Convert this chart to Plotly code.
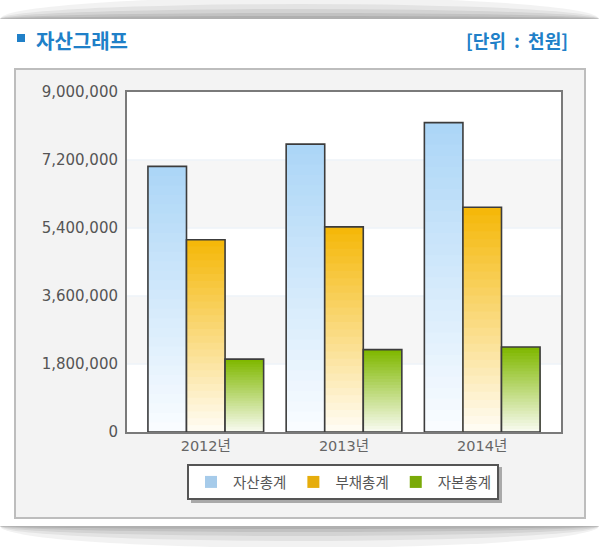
import plotly.graph_objects as go

# data (unit: 천원)
years = ["2012년", "2013년", "2014년"]
series_names = ["자산총계", "부채총계", "자본총계"]
assets = [7030000, 7620000, 8190000]
liabilities = [5090000, 5430000, 5950000]
equity = [1930000, 2180000, 2250000]
y_ticks = [0, 1800000, 3600000, 5400000, 7200000, 9000000]

W, H = 599, 547
L, R, T, B = 127, 38, 92, 115          # plot area 127..561 x 92..432


def px(x):
    return (x - L) / (W - L - R)


def py(y):
    return (H - B - y) / (H - T - B)


def mix(c1, c2, t):
    return "rgb(%d,%d,%d)" % tuple(round(a + (b - a) * t) for a, b in zip(c1, c2))


# top colour -> bottom colour of each bar gradient
grads = [
    ((172, 214, 247), (249, 252, 255)),
    ((245, 184, 10), (255, 252, 242)),
    ((128, 184, 0), (247, 250, 238)),
]
legend_cols = ["#a6cbea", "#e6ad0c", "#7aaa08"]

bw = 0.279
offsets = [-1.5 * bw, -0.5 * bw, 0.5 * bw]
K = 28

fig = go.Figure()
for i, (name, vals) in enumerate(zip(series_names, [assets, liabilities, equity])):
    top, bot = grads[i]
    for k in range(K):
        frac = 1 - k / K
        fig.add_trace(go.Bar(
            x=years, y=[v * frac for v in vals], width=bw, offset=offsets[i],
            marker=dict(color=mix(top, bot, k / (K - 1)), line=dict(width=0)),
            showlegend=False, hoverinfo="skip",
        ))
    # outline
    fig.add_trace(go.Bar(
        x=years, y=vals, width=bw, offset=offsets[i], name=name,
        marker=dict(color="rgba(0,0,0,0)", line=dict(color="#3c3c3c", width=1.6)),
        showlegend=False,
    ))
    # legend entry
    fig.add_trace(go.Bar(
        x=[None], y=[None], name=name,
        marker=dict(color=legend_cols[i], line=dict(width=0)),
    ))

shapes = []
# top and bottom paper shadows
for cy, sign in [(19, -1), (526, 1)]:
    for h, op in [(22, 0.05), (15, 0.06), (10, 0.07), (6, 0.08), (3, 0.09)]:
        shapes.append(dict(type="circle", xref="paper", yref="paper",
                           x0=px(0), x1=px(599), y0=py(cy - h), y1=py(cy + h),
                           fillcolor="rgba(0,0,0,%s)" % op, line=dict(width=0), layer="below"))
    if sign < 0:
        shapes.append(dict(type="rect", xref="paper", yref="paper",
                           x0=px(-5), x1=px(605), y0=py(cy), y1=py(cy + 40),
                           fillcolor="white", line=dict(width=0), layer="below"))
    else:
        shapes.append(dict(type="rect", xref="paper", yref="paper",
                           x0=px(-5), x1=px(605), y0=py(cy - 40), y1=py(cy),
                           fillcolor="white", line=dict(width=0), layer="below"))

# grey panel
shapes.append(dict(type="rect", xref="paper", yref="paper",
                   x0=px(15), x1=px(585), y0=py(69), y1=py(518),
                   fillcolor="#f3f3f3", line=dict(color="#bdbdbd", width=2), layer="below"))
# plot background
shapes.append(dict(type="rect", xref="paper", yref="paper", x0=0, x1=1, y0=0, y1=1,
                   fillcolor="white", line=dict(width=0), layer="below"))
# alternating bands
for j in range(len(y_ticks) - 1):
    if j % 2 == 1:
        shapes.append(dict(type="rect", xref="paper", yref="y", x0=0, x1=1,
                           y0=y_ticks[j], y1=y_ticks[j + 1],
                           fillcolor="#f6f6f6", line=dict(width=0), layer="below"))
for v in y_ticks[1:-1]:
    shapes.append(dict(type="line", xref="paper", yref="y", x0=0, x1=1, y0=v, y1=v,
                       line=dict(color="#eef3f8", width=1.5), layer="below"))
# title square
shapes.append(dict(type="rect", xref="paper", yref="paper",
                   x0=px(17), x1=px(25), y0=py(34), y1=py(42),
                   fillcolor="#2080c8", line=dict(width=0)))
# legend shadow
shapes.append(dict(type="rect", xref="paper", yref="paper",
                   x0=px(191), x1=px(502), y0=py(467), y1=py(503),
                   fillcolor="rgba(0,0,0,0.3)", line=dict(width=0), layer="above"))

fig.update_layout(
    width=W, height=H,
    margin=dict(l=L, r=R, t=T, b=B),
    paper_bgcolor="white", plot_bgcolor="rgba(0,0,0,0)",
    barmode="overlay",
    shapes=shapes,
    font=dict(family="DejaVu Sans", color="#555555"),
    xaxis=dict(
        type="category", range=[-0.57, 2.57],
        showline=True, mirror=True, linecolor="#7a7a7a", linewidth=2,
        showgrid=False, ticks="", tickfont=dict(size=14.5, color="#666666",
                                               family="DejaVu Sans, Noto Sans CJK KR"),
    ),
    yaxis=dict(
        range=[0, 9000000], tickvals=y_ticks, tickformat=",d",
        showline=True, mirror=True, linecolor="#7a7a7a", linewidth=2,
        showgrid=False, zeroline=False, ticks="", ticklabelstandoff=4,
        tickfont=dict(size=15, color="#555555"),
    ),
    legend=dict(
        orientation="h", x=px(343), xanchor="center", y=py(482), yanchor="middle",
        bgcolor="white", bordercolor="#555555", borderwidth=2,
        font=dict(family="Noto Sans CJK KR", size=14.5, color="#555555"),
        itemwidth=34, itemclick=False,
    ),
    annotations=[
        dict(text="<b>자산그래프</b>", xref="paper", yref="paper", x=px(34), y=py(40),
             xanchor="left", yanchor="middle", showarrow=False,
             font=dict(family="Noto Sans CJK KR", size=20, color="#2080c8")),
        dict(text="<b>[단위&nbsp; : &nbsp;천원]</b>", xref="paper", yref="paper",
             x=px(570), y=py(40), xanchor="right", yanchor="middle", showarrow=False,
             font=dict(family="Noto Sans CJK KR", size=18, color="#2080c8")),
    ],
    showlegend=True,
)

fig.write_html("out.html", config={"displayModeBar": False},
               post_script="document.body.style.margin='0';")
